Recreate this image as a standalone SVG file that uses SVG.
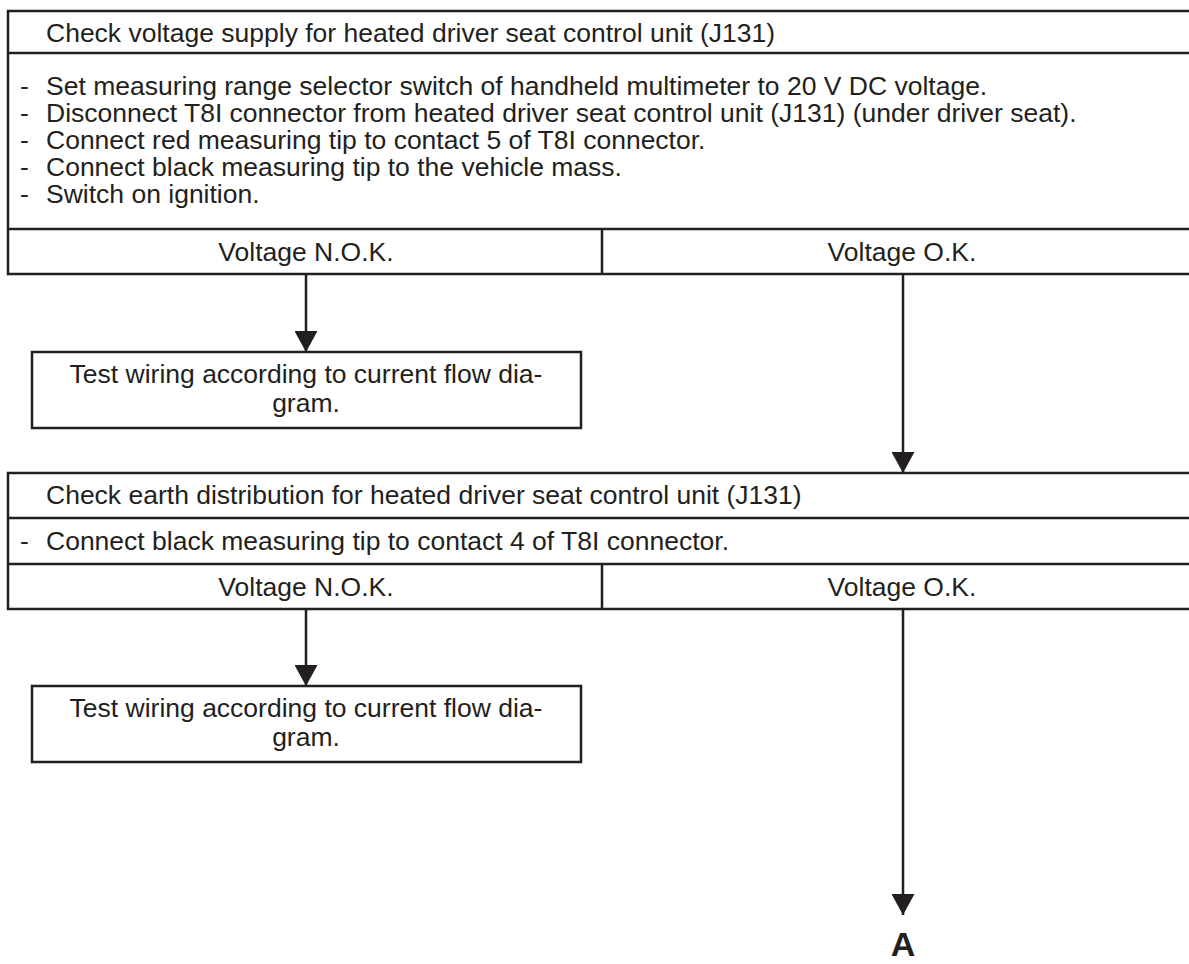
<svg xmlns="http://www.w3.org/2000/svg" width="1189" height="964" viewBox="0 0 1189 964">
<style>
.bx{fill:#fff;stroke:#231f20;stroke-width:2.5}
.ln{stroke:#231f20;stroke-width:2.5;fill:none}
.t{font-family:"Liberation Sans",Arial,sans-serif;font-size:26.5px;fill:#231f20}
.c{text-anchor:middle}
.w{stroke:#231f20;stroke-width:2.5;fill:none}
</style>
<defs>
<marker id="ah" viewBox="0 0 21 23" markerWidth="21" markerHeight="23" refX="21" refY="11.5" orient="auto" markerUnits="userSpaceOnUse">
<path d="M0,0 L21,11.5 L0,23 z" fill="#231f20"/>
</marker>
</defs>
<rect width="1189" height="964" fill="#fff"/>
<g id="check-voltage">
<rect class="bx" x="8" y="11" width="1200" height="263"/>
<line class="ln" x1="8" y1="53" x2="1208" y2="53"/>
<line class="ln" x1="8" y1="229" x2="1208" y2="229"/>
<line class="ln" x1="602" y1="229" x2="602" y2="274"/>
<text class="t" x="46" y="42">Check voltage supply for heated driver seat control unit (J131)</text>
<text class="t" x="20" y="95">-</text><text class="t" x="46" y="95">Set measuring range selector switch of handheld multimeter to 20 V DC voltage.</text>
<text class="t" x="20" y="122">-</text><text class="t" x="46" y="122">Disconnect T8I connector from heated driver seat control unit (J131) (under driver seat).</text>
<text class="t" x="20" y="149">-</text><text class="t" x="46" y="149">Connect red measuring tip to contact 5 of T8I connector.</text>
<text class="t" x="20" y="176">-</text><text class="t" x="46" y="176">Connect black measuring tip to the vehicle mass.</text>
<text class="t" x="20" y="203">-</text><text class="t" x="46" y="203">Switch on ignition.</text>
<text class="t c" x="306" y="261">Voltage N.O.K.</text>
<text class="t c" x="902" y="261">Voltage O.K.</text>
</g>
<g id="test-wiring-1">
<rect class="bx" x="32" y="352" width="549" height="76"/>
<text class="t c" x="306" y="383">Test wiring according to current flow dia-</text>
<text class="t c" x="306" y="412">gram.</text>
</g>
<g id="check-earth">
<rect class="bx" x="8" y="473" width="1200" height="136"/>
<line class="ln" x1="8" y1="518" x2="1208" y2="518"/>
<line class="ln" x1="8" y1="564" x2="1208" y2="564"/>
<line class="ln" x1="602" y1="564" x2="602" y2="609"/>
<text class="t" x="46" y="504">Check earth distribution for heated driver seat control unit (J131)</text>
<text class="t" x="20" y="550">-</text><text class="t" x="46" y="550">Connect black measuring tip to contact 4 of T8I connector.</text>
<text class="t c" x="306" y="596">Voltage N.O.K.</text>
<text class="t c" x="902" y="596">Voltage O.K.</text>
</g>
<g id="test-wiring-2">
<rect class="bx" x="32" y="686" width="549" height="76"/>
<text class="t c" x="306" y="717">Test wiring according to current flow dia-</text>
<text class="t c" x="306" y="746">gram.</text>
</g>
<g id="label-A">
<text x="903" y="956" text-anchor="middle" style="font-family:'Liberation Sans',Arial,sans-serif;font-size:34px;font-weight:bold;fill:#231f20">A</text>
</g>
<g id="connectors">
<line class="w" x1="306" y1="275" x2="306" y2="352" marker-end="url(#ah)"/>
<line class="w" x1="903" y1="275" x2="903" y2="473" marker-end="url(#ah)"/>
<line class="w" x1="306" y1="610" x2="306" y2="686" marker-end="url(#ah)"/>
<line class="w" x1="903" y1="610" x2="903" y2="915" marker-end="url(#ah)"/>
</g>
</svg>
